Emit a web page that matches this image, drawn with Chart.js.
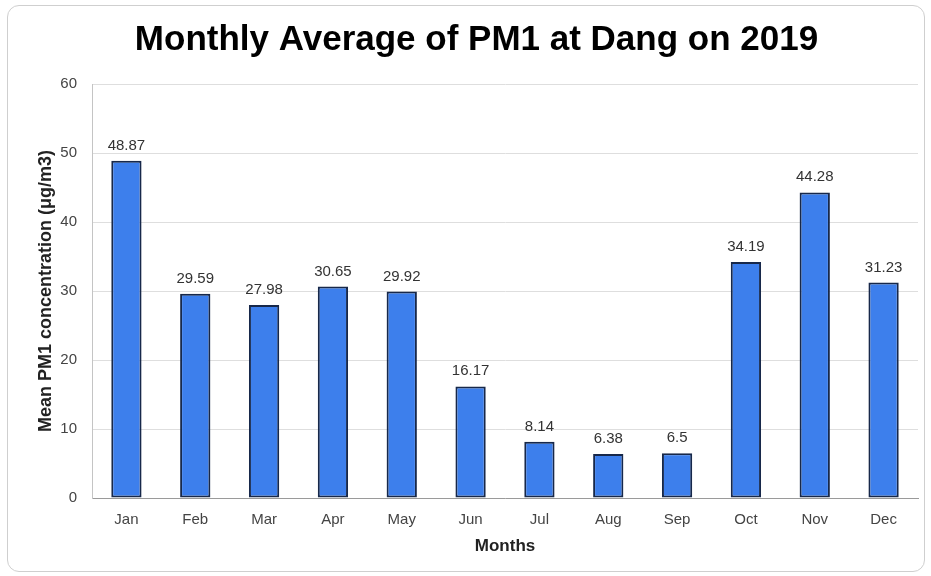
<!DOCTYPE html>
<html lang="en">
<head>
    <meta charset="UTF-8">
    <title>Monthly Average of PM1 at Dang on 2019</title>
    <script src="https://cdn.jsdelivr.net/npm/chart.js"></script>
    <style>
        html, body { margin: 0; padding: 0; background: #fff; }
        #wrap { position: relative; width: 931px; height: 576px; }
        #frame {
            position: absolute; left: 7px; top: 5px; width: 918px; height: 567px;
            border: 1px solid #cfcfcf; border-radius: 12px; box-sizing: border-box;
        }
        #pmChart { position: absolute; left: 0; top: 0; }
    </style>
</head>
<body>
    <div id="wrap">
        <div id="frame"></div>
        <canvas id="pmChart" width="931" height="576"></canvas>
    </div>

    <script>
        const months = ["Jan", "Feb", "Mar", "Apr", "May", "Jun", "Jul", "Aug", "Sep", "Oct", "Nov", "Dec"];
        const pm1Means = [48.87, 29.59, 27.98, 30.65, 29.92, 16.17, 8.14, 6.38, 6.5, 34.19, 44.28, 31.23];
        const yMin = 0, yMax = 60, yStep = 10;

        const fontFam = "'Liberation Sans', Arial, sans-serif";

        // draws the number above each bar
        const valueLabels = {
            id: "valueLabels",
            afterDatasetsDraw(chart) {
                const c = chart.ctx;
                const meta = chart.getDatasetMeta(0);
                c.save();
                c.font = "15px " + fontFam;
                c.fillStyle = "#333";
                c.textAlign = "center";
                c.textBaseline = "alphabetic";
                meta.data.forEach((bar, i) => {
                    c.fillText(String(pm1Means[i]), bar.x, bar.y - 11);
                });
                c.restore();
            }
        };

        const ctx = document.getElementById("pmChart").getContext("2d");
        new Chart(ctx, {
            type: "bar",
            data: {
                labels: months,
                datasets: [{
                    label: "Mean PM1",
                    data: pm1Means,
                    backgroundColor: "#3d7fec",
                    borderColor: "#17284a",
                    borderWidth: 2,
                    borderSkipped: false,
                    barPercentage: 0.44,
                    categoryPercentage: 1
                }]
            },
            options: {
                responsive: false,
                animation: false,
                layout: { padding: { left: 35, right: 13, top: 0, bottom: 19 } },
                plugins: {
                    legend: { display: false },
                    tooltip: { enabled: false },
                    title: {
                        display: true,
                        text: "Monthly Average of PM1 at Dang on 2019",
                        color: "#000",
                        font: { family: fontFam, size: 35, weight: "bold" },
                        padding: { top: 19, bottom: 23 }
                    }
                },
                scales: {
                    x: {
                        afterFit(scale) { scale.height = 59; },
                        grid: { display: false, drawTicks: false },
                        border: { color: "#9a9a9a" },
                        ticks: { color: "#444", padding: 13, font: { family: fontFam, size: 15 } },
                        title: {
                            display: true, text: "Months", color: "#222",
                            font: { family: fontFam, size: 17, weight: "bold" },
                            padding: { top: 0, bottom: 0 }
                        }
                    },
                    y: {
                        min: yMin, max: yMax,
                        afterFit(scale) { scale.width = 57; },
                        grid: { color: "#dedede", drawTicks: false },
                        border: { color: "#c4c4c4" },
                        ticks: { stepSize: yStep, color: "#444", padding: 15, font: { family: fontFam, size: 15 } },
                        title: {
                            display: true, text: "Mean PM1 concentration (μg/m3)", color: "#222",
                            font: { family: fontFam, size: 18, weight: "bold" },
                            padding: { top: 0, bottom: 0 }
                        }
                    }
                }
            },
            plugins: [valueLabels]
        });
    </script>
</body>
</html>
